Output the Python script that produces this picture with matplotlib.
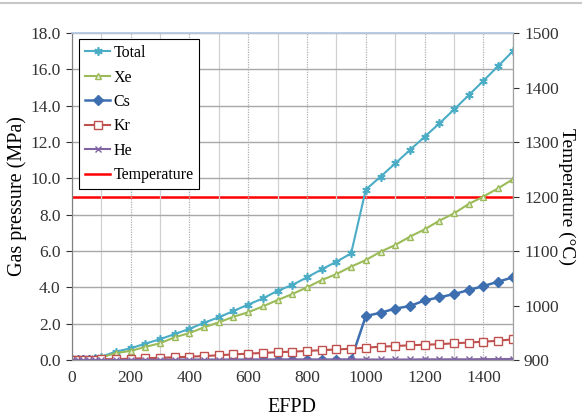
import matplotlib
matplotlib.use("Agg")
import matplotlib.pyplot as plt
from matplotlib.lines import Line2D

plt.rcParams['font.family'] = ['Liberation Serif', 'DejaVu Serif']

# EFPD points
efpd = [0, 20, 40, 60, 80, 100, 150, 200, 250, 300, 350, 400, 450, 500, 550,
        600, 650, 700, 750, 800, 850, 900, 950, 1000, 1050, 1100, 1150, 1200,
        1250, 1300, 1350, 1400, 1450, 1500]

total = [0.0, 0.02, 0.05, 0.08, 0.12, 0.18, 0.46, 0.64, 0.90, 1.14, 1.43, 1.71,
         2.05, 2.35, 2.70, 3.05, 3.39, 3.81, 4.13, 4.55, 4.99, 5.41, 5.87, 9.38,
         10.09, 10.82, 11.56, 12.29, 13.02, 13.79, 14.58, 15.37, 16.18, 17.0]

xe = [0.0, 0.01, 0.03, 0.06, 0.09, 0.14, 0.38, 0.50, 0.72, 0.92, 1.25, 1.48,
      1.80, 2.07, 2.38, 2.63, 2.95, 3.30, 3.63, 4.00, 4.40, 4.73, 5.14, 5.50,
      5.96, 6.33, 6.79, 7.19, 7.67, 8.07, 8.59, 9.00, 9.45, 9.95]

cs = [0.0, 0.0, 0.0, 0.0, 0.0, 0.0, 0.01, 0.01, 0.01, 0.01, 0.01, 0.01,
      0.01, 0.01, 0.01, 0.01, 0.01, 0.01, 0.01, 0.01, 0.01, 0.01, 0.01, 2.42,
      2.60, 2.83, 2.97, 3.28, 3.45, 3.63, 3.85, 4.07, 4.31, 4.55]

kr = [0.0, 0.01, 0.01, 0.02, 0.02, 0.03, 0.05, 0.07, 0.10, 0.12, 0.15, 0.18,
      0.22, 0.26, 0.31, 0.35, 0.39, 0.43, 0.46, 0.50, 0.54, 0.58, 0.62, 0.68,
      0.73, 0.77, 0.81, 0.84, 0.87, 0.92, 0.96, 1.01, 1.06, 1.14]

he = [0.0, 0.0, 0.0, 0.0, 0.0, 0.0, 0.0, 0.01, 0.01, 0.01, 0.01, 0.01,
      0.01, 0.01, 0.01, 0.02, 0.02, 0.02, 0.02, 0.02, 0.02, 0.02, 0.03, 0.03,
      0.03, 0.03, 0.03, 0.04, 0.04, 0.04, 0.04, 0.05, 0.05, 0.06]

temp_x = [0, 1500]
temp_c = [1200, 1200]

fig = plt.figure(figsize=(5.82, 4.19), dpi=100)
ax = fig.add_axes([0.1232, 0.1408, 0.758, 0.7804])
ax2 = ax.twinx()

# right axis (temperature) drawn behind the pressure lines
ax.set_zorder(ax2.get_zorder() + 1)
ax.patch.set_visible(False)

l_temp, = ax2.plot(temp_x, temp_c, color='#ff0000', lw=1.8, label='Temperature')
ax2.set_ylim(900, 1500)
ax2.set_yticks(range(900, 1501, 100))

l_tot, = ax.plot(efpd, total, color='#4bacc6', lw=1.5, marker=(6, 2, 0), ms=6,
                 mew=1.2, label='Total')
l_xe, = ax.plot(efpd, xe, color='#9bbb59', lw=1.5, marker='^', ms=5,
                mfc='#e6efd6', mew=1.0, label='Xe')
l_cs, = ax.plot(efpd, cs, color='#3d6fb0', lw=1.8, marker='D', ms=5.5,
                label='Cs')
l_kr, = ax.plot(efpd, kr, color='#c0504d', lw=1.5, marker='s', ms=5.5,
                mfc='white', mew=1.0, label='Kr')
l_he, = ax.plot(efpd, he, color='#8064a2', lw=1.5, marker='x', ms=4.5,
                mew=1.0, label='He')

ax.set_xlim(0, 1500)
ax.set_ylim(0, 18)
ax.set_xticks(range(0, 1401, 200))
ax.set_xticks(range(100, 1501, 200), minor=True)
ax.set_yticks([i * 2.0 for i in range(10)])
ax.set_yticklabels([f'{i * 2.0:.1f}' for i in range(10)])

ax.grid(True, which='major', axis='x', color='#b0b0b0', ls=(0, (1, 1)), lw=0.9)
ax.grid(True, which='minor', axis='x', color='#d0d0d0', ls='-', lw=0.9)
ax.grid(True, which='major', axis='y', color='#a8a8a8', ls='-', lw=1.0)
ax.tick_params(which='minor', length=0)

for a in (ax, ax2):
    a.tick_params(labelsize=12.5, colors='#333333', length=4, width=0.8)
    a.spines['top'].set_color('#b8cce4')
    a.spines['top'].set_linewidth(1.2)
    a.spines['bottom'].set_color('#a0a0a0')
    a.spines['left'].set_color('#808080')
    a.spines['right'].set_color('#a0a0a0')
ax.tick_params(axis='x', length=0, pad=7)
ax.tick_params(axis='y', pad=4)
ax2.tick_params(axis='y', pad=4)

ax.set_xlabel('EFPD', fontsize=14.5, labelpad=9)
ax.set_ylabel('Gas pressure (MPa)', fontsize=14.5, labelpad=2)
ax2.set_ylabel('Temperature (\u00b0C)', fontsize=14, rotation=270, labelpad=12)

leg = ax.legend(handles=[l_tot, l_xe, l_cs, l_kr, l_he, l_temp], loc='upper left',
                bbox_to_anchor=(0.01, 0.99), fontsize=11.5, frameon=True,
                fancybox=False, edgecolor='black', framealpha=1,
                handlelength=1.6, handletextpad=0.2, labelspacing=0.53,
                borderpad=0.35, borderaxespad=0.2)
leg.get_frame().set_linewidth(0.8)

# thin gray border line at top of the image
fig.add_artist(Line2D([0, 1], [0.993, 0.993], transform=fig.transFigure,
                      color='#c8c8c8', lw=1.5))

plt.savefig('out.png', dpi=100)
plt.close()
